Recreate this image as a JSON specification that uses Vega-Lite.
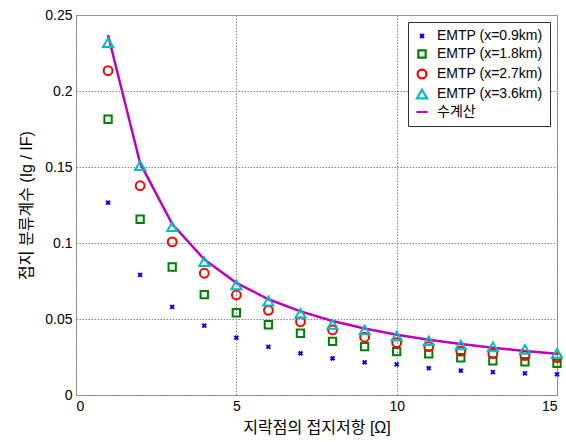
{
  "$schema": "https://vega.github.io/schema/vega-lite/v6.json",
  "width": 481,
  "height": 380,
  "autosize": {"type": "none"},
  "padding": {"left": 76, "top": 15, "right": 9, "bottom": 47},
  "background": "white",
  "config": {
    "font": "Liberation Sans, Noto Sans CJK KR",
    "view": {"stroke": "#999", "strokeWidth": 1},
    "axis": {
      "labelFont": "Liberation Sans, Noto Sans CJK KR",
      "titleFont": "Liberation Sans, Noto Sans CJK KR",
      "labelFontSize": 14,
      "labelColor": "#000",
      "titleColor": "#000",
      "titleFontWeight": "normal",
      "titleFontSize": 16,
      "domain": false,
      "ticks": false,
      "gridColor": "#888",
      "gridDash": [1.5, 1.5],
      "gridWidth": 1
    }
  },
  "data": {
    "values": [
      {"R": 1, "series": "EMTP (x=0.9km)", "v": 0.1265},
      {"R": 2, "series": "EMTP (x=0.9km)", "v": 0.079},
      {"R": 3, "series": "EMTP (x=0.9km)", "v": 0.0579},
      {"R": 4, "series": "EMTP (x=0.9km)", "v": 0.0456},
      {"R": 5, "series": "EMTP (x=0.9km)", "v": 0.0377},
      {"R": 6, "series": "EMTP (x=0.9km)", "v": 0.0317},
      {"R": 7, "series": "EMTP (x=0.9km)", "v": 0.0274},
      {"R": 8, "series": "EMTP (x=0.9km)", "v": 0.0241},
      {"R": 9, "series": "EMTP (x=0.9km)", "v": 0.0215},
      {"R": 10, "series": "EMTP (x=0.9km)", "v": 0.0202},
      {"R": 11, "series": "EMTP (x=0.9km)", "v": 0.0176},
      {"R": 12, "series": "EMTP (x=0.9km)", "v": 0.016},
      {"R": 13, "series": "EMTP (x=0.9km)", "v": 0.0151},
      {"R": 14, "series": "EMTP (x=0.9km)", "v": 0.0143},
      {"R": 15, "series": "EMTP (x=0.9km)", "v": 0.0136},
      {"R": 1, "series": "EMTP (x=1.8km)", "v": 0.1814},
      {"R": 2, "series": "EMTP (x=1.8km)", "v": 0.1156},
      {"R": 3, "series": "EMTP (x=1.8km)", "v": 0.0842},
      {"R": 4, "series": "EMTP (x=1.8km)", "v": 0.066},
      {"R": 5, "series": "EMTP (x=1.8km)", "v": 0.0541},
      {"R": 6, "series": "EMTP (x=1.8km)", "v": 0.0462},
      {"R": 7, "series": "EMTP (x=1.8km)", "v": 0.0406},
      {"R": 8, "series": "EMTP (x=1.8km)", "v": 0.0353},
      {"R": 9, "series": "EMTP (x=1.8km)", "v": 0.0318},
      {"R": 10, "series": "EMTP (x=1.8km)", "v": 0.0285},
      {"R": 11, "series": "EMTP (x=1.8km)", "v": 0.0271},
      {"R": 12, "series": "EMTP (x=1.8km)", "v": 0.0245},
      {"R": 13, "series": "EMTP (x=1.8km)", "v": 0.0225},
      {"R": 14, "series": "EMTP (x=1.8km)", "v": 0.0219},
      {"R": 15, "series": "EMTP (x=1.8km)", "v": 0.0208},
      {"R": 1, "series": "EMTP (x=2.7km)", "v": 0.2134},
      {"R": 2, "series": "EMTP (x=2.7km)", "v": 0.1377},
      {"R": 3, "series": "EMTP (x=2.7km)", "v": 0.1007},
      {"R": 4, "series": "EMTP (x=2.7km)", "v": 0.0801},
      {"R": 5, "series": "EMTP (x=2.7km)", "v": 0.0658},
      {"R": 6, "series": "EMTP (x=2.7km)", "v": 0.0557},
      {"R": 7, "series": "EMTP (x=2.7km)", "v": 0.0482},
      {"R": 8, "series": "EMTP (x=2.7km)", "v": 0.0428},
      {"R": 9, "series": "EMTP (x=2.7km)", "v": 0.038},
      {"R": 10, "series": "EMTP (x=2.7km)", "v": 0.0344},
      {"R": 11, "series": "EMTP (x=2.7km)", "v": 0.0318},
      {"R": 12, "series": "EMTP (x=2.7km)", "v": 0.0288},
      {"R": 13, "series": "EMTP (x=2.7km)", "v": 0.0272},
      {"R": 14, "series": "EMTP (x=2.7km)", "v": 0.0259},
      {"R": 15, "series": "EMTP (x=2.7km)", "v": 0.0246},
      {"R": 1, "series": "EMTP (x=3.6km)", "v": 0.2318},
      {"R": 2, "series": "EMTP (x=3.6km)", "v": 0.1509},
      {"R": 3, "series": "EMTP (x=3.6km)", "v": 0.1107},
      {"R": 4, "series": "EMTP (x=3.6km)", "v": 0.0877},
      {"R": 5, "series": "EMTP (x=3.6km)", "v": 0.0724},
      {"R": 6, "series": "EMTP (x=3.6km)", "v": 0.0618},
      {"R": 7, "series": "EMTP (x=3.6km)", "v": 0.0537},
      {"R": 8, "series": "EMTP (x=3.6km)", "v": 0.0465},
      {"R": 9, "series": "EMTP (x=3.6km)", "v": 0.0428},
      {"R": 10, "series": "EMTP (x=3.6km)", "v": 0.0388},
      {"R": 11, "series": "EMTP (x=3.6km)", "v": 0.0357},
      {"R": 12, "series": "EMTP (x=3.6km)", "v": 0.0329},
      {"R": 13, "series": "EMTP (x=3.6km)", "v": 0.0316},
      {"R": 14, "series": "EMTP (x=3.6km)", "v": 0.03},
      {"R": 15, "series": "EMTP (x=3.6km)", "v": 0.0274},
      {"R": 1, "series": "수계산", "v": 0.2368},
      {"R": 2, "series": "수계산", "v": 0.1525},
      {"R": 3, "series": "수계산", "v": 0.1125},
      {"R": 4, "series": "수계산", "v": 0.0892},
      {"R": 5, "series": "수계산", "v": 0.0738},
      {"R": 6, "series": "수계산", "v": 0.063},
      {"R": 7, "series": "수계산", "v": 0.055},
      {"R": 8, "series": "수계산", "v": 0.0487},
      {"R": 9, "series": "수계산", "v": 0.0437},
      {"R": 10, "series": "수계산", "v": 0.0397},
      {"R": 11, "series": "수계산", "v": 0.0363},
      {"R": 12, "series": "수계산", "v": 0.0335},
      {"R": 13, "series": "수계산", "v": 0.0311},
      {"R": 14, "series": "수계산", "v": 0.029},
      {"R": 15, "series": "수계산", "v": 0.0272}
    ]
  },
  "encoding": {
    "x": {
      "field": "R", "type": "quantitative",
      "scale": {"domain": [0, 15], "nice": false, "zero": false},
      "axis": {"values": [0, 5, 10, 15], "title": "지락점의 접지저항 [Ω]", "titlePadding": 6, "labelPadding": 4}
    },
    "y": {
      "field": "v", "type": "quantitative",
      "scale": {"domain": [0, 0.25], "nice": false},
      "axis": {"values": [0, 0.05, 0.1, 0.15, 0.2, 0.25], "format": "~g", "title": "접지 분류계수 (Ig / IF)", "titlePadding": 10, "labelPadding": 4}
    },
    "color": {
      "field": "series", "type": "nominal",
      "scale": {
        "domain": ["EMTP (x=0.9km)", "EMTP (x=1.8km)", "EMTP (x=2.7km)", "EMTP (x=3.6km)", "수계산"],
        "range": ["#0000ff", "#008000", "#ff0000", "#00bfbf", "#bf00bf"]
      },
      "legend": {
        "title": null,
        "orient": "top-right",
        "offset": 7,
        "fillColor": "white",
        "strokeColor": "#333",
        "padding": 7,
        "labelFontSize": 14,
        "labelFont": "Liberation Sans, Noto Sans CJK KR",
        "labelColor": "#000",
        "rowPadding": 2,
        "symbolStrokeWidth": 2.2,
        "symbolSize": 130,
        "labelOffset": 8
      }
    }
  },
  "layer": [
    {
      "transform": [{"filter": "datum.series === '수계산'"}],
      "mark": {"type": "line", "strokeWidth": 2.5}
    },
    {
      "transform": [{"filter": "datum.series !== '수계산'"}],
      "mark": {"type": "point", "filled": false, "strokeWidth": 2, "opacity": 1},
      "encoding": {
        "shape": {
          "field": "series", "type": "nominal",
          "scale": {
            "domain": ["EMTP (x=0.9km)", "EMTP (x=1.8km)", "EMTP (x=2.7km)", "EMTP (x=3.6km)", "수계산"],
            "range": ["M-0.7,-0.7L0.7,0.7M-0.7,0.7L0.7,-0.7", "square", "circle", "triangle-up", "stroke"]
          },
          "legend": {"title": null}
        },
        "size": {
          "field": "series", "type": "nominal",
          "scale": {
            "domain": ["EMTP (x=0.9km)", "EMTP (x=1.8km)", "EMTP (x=2.7km)", "EMTP (x=3.6km)", "수계산"],
            "range": [30, 125, 100, 130, 400]
          },
          "legend": null
        }
      }
    }
  ]
}
